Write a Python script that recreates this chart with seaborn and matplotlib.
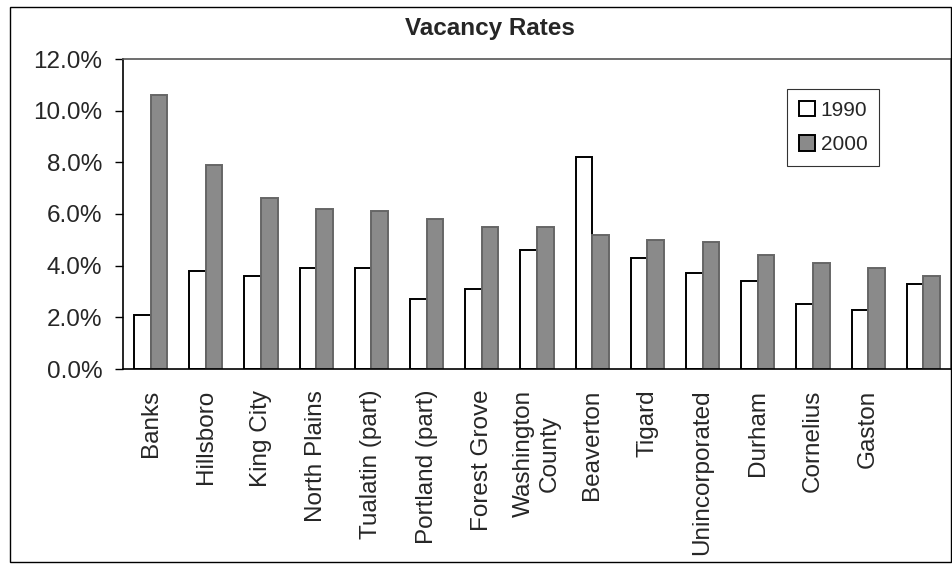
import matplotlib
matplotlib.use("Agg")
import matplotlib.pyplot as plt
import matplotlib.ticker as mticker
from matplotlib.patches import Rectangle, Patch
import seaborn as sns
import numpy as np
import pandas as pd

places = ["Banks", "Hillsboro", "King City", "North Plains", "Tualatin (part)",
          "Portland (part)", "Forest Grove", "Washington\nCounty", "Beaverton",
          "Tigard", "Unincorporated", "Durham", "Cornelius", "Gaston", ""]
rate_1990 = [2.1, 3.8, 3.6, 3.9, 3.9, 2.7, 3.1, 4.6, 8.2, 4.3, 3.7, 3.4, 2.5, 2.3, 3.3]
rate_2000 = [10.6, 7.9, 6.6, 6.2, 6.1, 5.8, 5.5, 5.5, 5.2, 5.0, 4.9, 4.4, 4.1, 3.9, 3.6]
years = ["1990", "2000"]
fills = {"1990": "white", "2000": "#8a8a8a"}
edges = {"1990": "black", "2000": "#666666"}

df = pd.DataFrame({
    "place": places * 2,
    "year": [years[0]] * len(places) + [years[1]] * len(places),
    "rate": [v / 100 for v in rate_1990 + rate_2000],
})

sns.set_style("white")
plt.rcParams["font.family"] = ["Liberation Sans", "DejaVu Sans"]

fig = plt.figure(figsize=(9.53, 5.64), dpi=100)
ax = fig.add_axes([123 / 953, 1 - 369 / 564, (951 - 123) / 953, (369 - 59) / 564])

sns.barplot(data=df, x="place", y="rate", hue="year", order=places,
            hue_order=years, palette=fills, width=0.6, gap=0, ax=ax, legend=False)

for cont, yr in zip(ax.containers, years):
    for p in cont.patches:
        p.set_edgecolor(edges[yr])
        p.set_linewidth(1.4)

ax.set_ylim(0, 0.12)
ax.set_xlim(-0.5, len(places) - 0.5)
ax.yaxis.set_major_locator(mticker.MultipleLocator(0.02))
ax.yaxis.set_major_formatter(mticker.PercentFormatter(1.0, decimals=1))
ax.set_xlabel("")
ax.set_ylabel("")

ax.set_xticks(np.arange(len(places)))
ax.set_xticklabels(places, rotation=90, fontsize=17.5, va="top", ha="center")
ax.set_xticks(np.arange(-0.5, len(places), 1), minor=True)
ax.tick_params(axis="x", which="major", length=0, pad=15)
ax.tick_params(axis="x", which="minor", length=6, width=1, color="black", direction="out")
ax.tick_params(axis="y", length=6, width=1, color="black", direction="out",
               labelsize=17.5, pad=9, left=True)

for side in ["left", "bottom", "top", "right"]:
    ax.spines[side].set_visible(True)
    ax.spines[side].set_color("black")
    ax.spines[side].set_linewidth(1.2)
ax.spines["top"].set_color("#555555")
ax.spines["right"].set_color("#555555")

handles = [Patch(facecolor=fills[y], edgecolor="black", linewidth=1.4, label=y)
           for y in years]
leg = ax.legend(handles=handles, loc="upper right", bbox_to_anchor=(0.913, 0.903),
                borderaxespad=0, fontsize=15, frameon=True, fancybox=False,
                edgecolor="black", handlelength=0.75, handleheight=0.75,
                handletextpad=0.3, labelspacing=0.75, borderpad=0.55)
leg.get_frame().set_linewidth(0.8)

fig.text(0.514, 0.95, "Vacancy Rates", ha="center", va="center",
         fontsize=17.5, fontweight="bold")

fig.patches.append(Rectangle((10 / 953, 0.004), 0.987, 1 - 7 / 564 - 0.004,
                             transform=fig.transFigure, fill=False,
                             edgecolor="black", linewidth=1))

fig.savefig("out.png", dpi=100)
